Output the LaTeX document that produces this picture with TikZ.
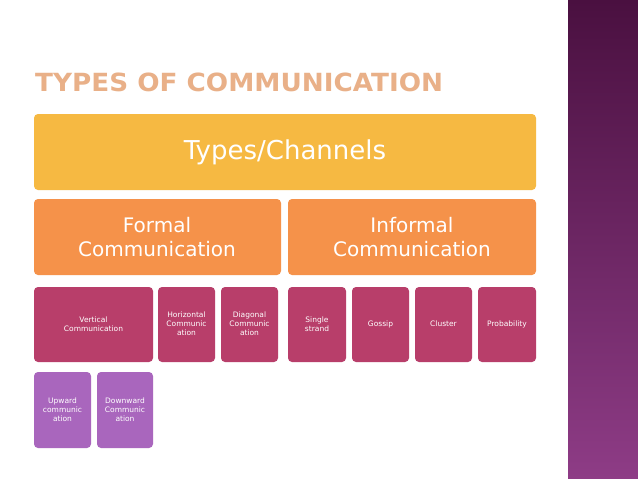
\documentclass[tikz,border=0pt]{standalone}
\usepackage{fontspec}
\setmainfont{DejaVu Sans}
\newfontfamily\titlefont{DejaVu Sans}
\definecolor{cyel}{HTML}{F6B942}
\definecolor{corg}{HTML}{F5924A}
\definecolor{cmag}{HTML}{B83E6A}
\definecolor{cpur}{HTML}{A966BD}
\definecolor{ctit}{HTML}{E9B088}
\definecolor{stripTop}{HTML}{4A1040}
\definecolor{stripBot}{HTML}{8E3C86}
\begin{document}
\begin{tikzpicture}[x=1pt,y=-1pt,
  bx/.style={rounded corners=4pt,text=white,align=center,inner sep=0pt},
  small/.style={font=\fontsize{7.5}{9}\selectfont}]
\useasboundingbox (0,0) rectangle (638,479);
\fill[white] (0,0) rectangle (638,479);
\shade[top color=stripTop,bottom color=stripBot] (568,0) rectangle (638,479);
\node[anchor=west,text=ctit,font=\titlefont\fontsize{25}{25}\selectfont\bfseries,inner sep=0pt,xscale=1.05] (title) at (35,82) {TYPES OF COMMUNICATION};
\fill[cyel,rounded corners=4pt] (34,114) rectangle (536,190);
\node[text=white,font=\fontsize{26}{28}\selectfont] (types) at (285,152) {Types/Channels};
\fill[corg,rounded corners=4pt] (34,199) rectangle (281,275);
\node[text=white,align=center,font=\fontsize{20}{24}\selectfont] (formal) at (157,237) {Formal\\Communication};
\fill[corg,rounded corners=4pt] (288,199) rectangle (536,275);
\node[text=white,align=center,font=\fontsize{20}{24}\selectfont] (informal) at (412,237) {Informal\\Communication};
\foreach \a/\b/\t/\n in {34/153/{Vertical\\Communication}/v,158/215/{Horizontal\\Communic\\ation}/h,221/278/{Diagonal\\Communic\\ation}/d,288/346/{Single\\strand}/s,352/409/{Gossip}/g,415/472/{Cluster}/c,478/536/{Probability}/p}{
  \fill[cmag,rounded corners=4pt] (\a,287) rectangle (\b,362);
  \node[bx,small] (\n) at ({(\a+\b)/2},324) {\t};
}
\foreach \a/\b/\t/\n in {34/91/{Upward\\communic\\ation}/u,97/153/{Downward\\Communic\\ation}/dw}{
  \fill[cpur,rounded corners=4pt] (\a,372) rectangle (\b,448);
  \node[bx,small] (\n) at ({(\a+\b)/2},410) {\t};
}
\end{tikzpicture}
\end{document}
